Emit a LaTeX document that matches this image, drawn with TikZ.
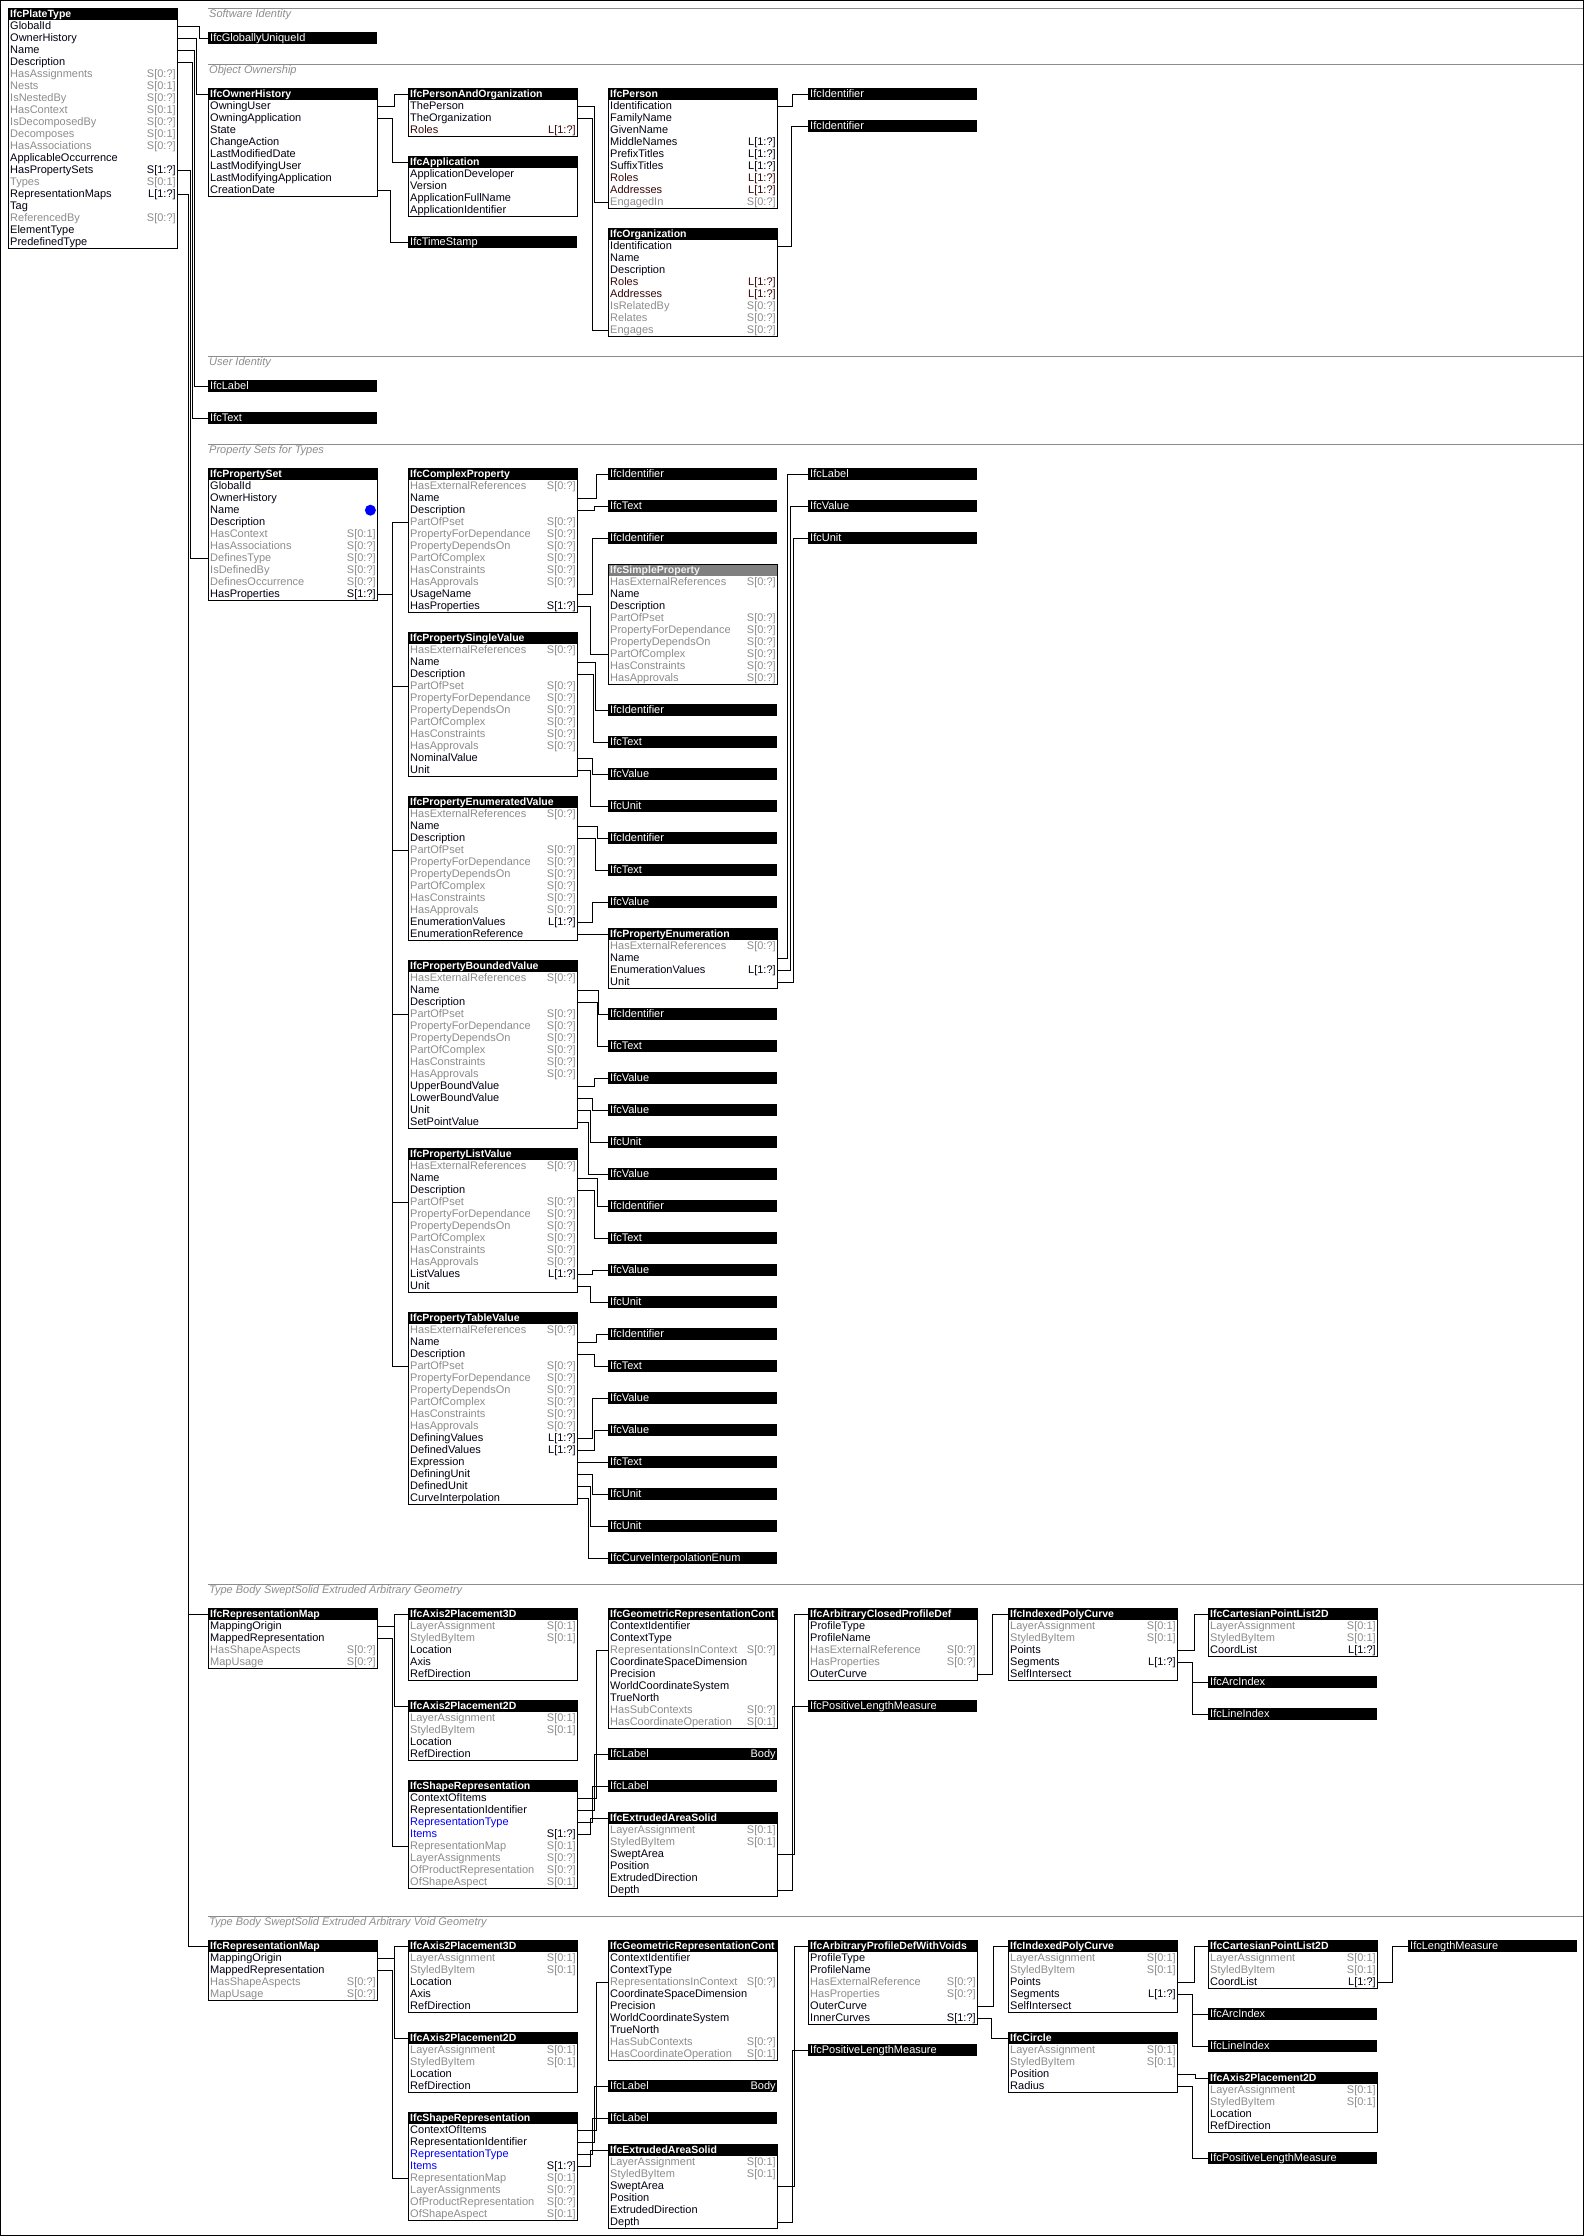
\documentclass[tikz,border=0pt]{standalone}
\usepackage{fontspec}
\setmainfont{Liberation Sans}
\usetikzlibrary{arrows.meta}

\definecolor{an}{HTML}{000010}
\definecolor{cn}{HTML}{000010}
\definecolor{ai}{HTML}{8C8C8C}
\definecolor{ci}{HTML}{8C8C8C}
\definecolor{as}{HTML}{0000FF}
\definecolor{cs}{HTML}{000010}
\definecolor{ar}{HTML}{3A0505}
\definecolor{cr}{HTML}{3A0505}
\definecolor{secgrey}{HTML}{8C8C8C}
\definecolor{absgrey}{HTML}{808080}

\newcommand{\AttrFont}{\fontsize{11}{12}\selectfont}
\newcommand{\TitleFont}{\fontsize{10.5}{12}\selectfont\bfseries}

\def\pcommon{HasExternalReferences/{S[0:?]}/i,
  Name//n, Description//n, PartOfPset/{S[0:?]}/i,
  PropertyForDependance/{S[0:?]}/i, PropertyDependsOn/{S[0:?]}/i,
  PartOfComplex/{S[0:?]}/i, HasConstraints/{S[0:?]}/i,
  HasApprovals/{S[0:?]}/i}

\newcommand{\Entity}[6][ttl]{%
  \node[#1] (#2) at (#3,#4) {#5};
  \edef\rowlist{#6}%
  \foreach \an/\ac/\ak [count=\ri] in \rowlist {
    \node[attr,text=a\ak] (#2-\an) at (#3,{#4+12*\ri}) {\an};
    \node[card,text=c\ak] (#2-\an-c) at (#2-\an.east) {\ac};
    \xdef\nrows{\ri}
  }
  \draw[entbox] (#3,#4) rectangle ++(169,{12*(\nrows+1)});
}
\newcommand{\TypeBar}[4]{\node[bar] (#1) at (#2,#3) {#4};}

\begin{document}
\begin{tikzpicture}[
    x=1pt, y=-1pt,
    ttl/.style={anchor=north west, fill=black, text=white, font=\TitleFont,
      text width=165, inner xsep=2, inner ysep=0, align=left,
      text height=8.5, text depth=2.5, minimum height=12},
    ttlabs/.style={ttl, fill=absgrey, text=white!88!absgrey},
    attr/.style={anchor=north west, font=\AttrFont, text width=165,
      inner xsep=2, inner ysep=0, align=left,
      text height=8.5, text depth=2.5, minimum height=12},
    card/.style={anchor=east, font=\AttrFont, inner xsep=1.5, inner ysep=0,
      text height=8.5, text depth=2.5},
    bar/.style={ttl, font=\AttrFont},
    entbox/.style={draw, line width=1pt},
    conn/.style={draw, line width=1pt},
    secline/.style={draw=secgrey, line width=1pt},
    sectitle/.style={anchor=west, text=secgrey, font=\AttrFont\itshape, inner sep=0},
    setdot/.style={circle, fill=blue, inner sep=0, minimum size=11},
    ]

    \useasboundingbox (0,0) rectangle (1584,2236);
    \draw[line width=1pt] (0.5,0.5) rectangle (1583.5,2235.5);

    \foreach \y/\tx [count=\s] in {8/Software Identity, 64/Object Ownership,
        356/User Identity, 444/Property Sets for Types,
        1584/Type Body SweptSolid Extruded Arbitrary Geometry,
        1916/Type Body SweptSolid Extruded Arbitrary Void Geometry} {
      \draw[secline] (208,\y) -- (1583,\y);
      \node[sectitle] (sec\s) at (209,\y+7) {\tx};
    }

    % software identity, ownership, user identity
    \Entity{pt}{8}{8}{IfcPlateType}{GlobalId//n, OwnerHistory//n, Name//n,
      Description//n, HasAssignments/{S[0:?]}/i, Nests/{S[0:1]}/i,
      IsNestedBy/{S[0:?]}/i, HasContext/{S[0:1]}/i, IsDecomposedBy/{S[0:?]}/i,
      Decomposes/{S[0:1]}/i, HasAssociations/{S[0:?]}/i, ApplicableOccurrence//n,
      HasPropertySets/{S[1:?]}/n, Types/{S[0:1]}/i, RepresentationMaps/{L[1:?]}/n,
      Tag//n, ReferencedBy/{S[0:?]}/i, ElementType//n, PredefinedType//n}
    \TypeBar{guid}{208}{32}{IfcGloballyUniqueId}
    \Entity{oh}{208}{88}{IfcOwnerHistory}{OwningUser//n, OwningApplication//n,
      State//n, ChangeAction//n, LastModifiedDate//n, LastModifyingUser//n,
      LastModifyingApplication//n, CreationDate//n}
    \Entity{pao}{408}{88}{IfcPersonAndOrganization}{ThePerson//n,
      TheOrganization//n, Roles/{L[1:?]}/r}
    \Entity{app}{408}{156}{IfcApplication}{ApplicationDeveloper//n, Version//n,
      ApplicationFullName//n, ApplicationIdentifier//n}
    \TypeBar{ts}{408}{236}{IfcTimeStamp}
    \Entity{per}{608}{88}{IfcPerson}{Identification//n, FamilyName//n,
      GivenName//n, MiddleNames/{L[1:?]}/n, PrefixTitles/{L[1:?]}/n,
      SuffixTitles/{L[1:?]}/n, Roles/{L[1:?]}/r, Addresses/{L[1:?]}/r,
      EngagedIn/{S[0:?]}/i}
    \Entity{org}{608}{228}{IfcOrganization}{Identification//n, Name//n,
      Description//n, Roles/{L[1:?]}/r, Addresses/{L[1:?]}/r,
      IsRelatedBy/{S[0:?]}/i, Relates/{S[0:?]}/i, Engages/{S[0:?]}/i}
    \TypeBar{perid}{808}{88}{IfcIdentifier}
    \TypeBar{orgid}{808}{120}{IfcIdentifier}
    \TypeBar{uilbl}{208}{380}{IfcLabel}
    \TypeBar{uitxt}{208}{412}{IfcText}

    \foreach \an/\dx/\tg in {GlobalId/22/guid, OwnerHistory/19.5/oh,
        Name/17/uilbl, Description/15/uitxt}
      \draw[conn] (pt-\an.east) -- ++(\dx,0) |- (\tg.west);
    \foreach \an/\dx/\tg in {OwningUser/17/pao, OwningApplication/15/app,
        CreationDate/13/ts}
      \draw[conn] (oh-\an.east) -- ++(\dx,0) |- (\tg.west);
    \draw[conn] (pao-ThePerson.east) -- ++(17,0) |- (per-EngagedIn.west);
    \draw[conn] (pao-TheOrganization.east) -- ++(15.5,0) |- (org-Engages.west);
    \draw[conn] (per-Identification.east) -- ++(15.5,0) |- (perid.west);
    \draw[conn] (org-Identification.east) -- ++(14.5,0) |- (orgid.west);

    % property sets
    \Entity{ps}{208}{468}{IfcPropertySet}{GlobalId//n, OwnerHistory//n, Name//n,
      Description//n, HasContext/{S[0:1]}/i, HasAssociations/{S[0:?]}/i,
      DefinesType/{S[0:?]}/i, IsDefinedBy/{S[0:?]}/i,
      DefinesOccurrence/{S[0:?]}/i, HasProperties/{S[1:?]}/n}
    \node[setdot] (psdot) at ([xshift=-7pt]ps-Name.east) {};
    \draw[conn] (pt-HasPropertySets.east) -- ++(13,0) |- (ps-DefinesType.west);

    \Entity{cp}{408}{468}{IfcComplexProperty}{\pcommon, UsageName//n,
      HasProperties/{S[1:?]}/n}
    \Entity{sv}{408}{632}{IfcPropertySingleValue}{\pcommon, NominalValue//n,
      Unit//n}
    \Entity{ev}{408}{796}{IfcPropertyEnumeratedValue}{\pcommon,
      EnumerationValues/{L[1:?]}/n, EnumerationReference//n}
    \Entity{bv}{408}{960}{IfcPropertyBoundedValue}{\pcommon,
      UpperBoundValue//n, LowerBoundValue//n, Unit//n, SetPointValue//n}
    \Entity{lv}{408}{1148}{IfcPropertyListValue}{\pcommon,
      ListValues/{L[1:?]}/n, Unit//n}
    \Entity{tv}{408}{1312}{IfcPropertyTableValue}{\pcommon,
      DefiningValues/{L[1:?]}/n, DefinedValues/{L[1:?]}/n, Expression//n,
      DefiningUnit//n, DefinedUnit//n, CurveInterpolation//n}

    \Entity[ttlabs]{sp}{608}{564}{IfcSimpleProperty}{\pcommon}
    \Entity{pe}{608}{928}{IfcPropertyEnumeration}{HasExternalReferences/{S[0:?]}/i,
      Name//n, EnumerationValues/{L[1:?]}/n, Unit//n}

    \foreach \n/\y/\tx in {cpid/468/IfcIdentifier, cptx/500/IfcText,
        cpun/532/IfcIdentifier, svid/704/IfcIdentifier, svtx/736/IfcText,
        svva/768/IfcValue, svun/800/IfcUnit, evid/832/IfcIdentifier,
        evtx/864/IfcText, evva/896/IfcValue, bvid/1008/IfcIdentifier,
        bvtx/1040/IfcText, bvup/1072/IfcValue, bvlo/1104/IfcValue,
        bvun/1136/IfcUnit, bvsp/1168/IfcValue, lvid/1200/IfcIdentifier,
        lvtx/1232/IfcText, lvva/1264/IfcValue, lvun/1296/IfcUnit,
        tvid/1328/IfcIdentifier, tvtx/1360/IfcText, tvdg/1392/IfcValue,
        tvdd/1424/IfcValue, tvex/1456/IfcText, tvgu/1488/IfcUnit,
        tvdu/1520/IfcUnit, tvci/1552/IfcCurveInterpolationEnum}
      \TypeBar{\n}{608}{\y}{\tx};
    \TypeBar{pelb}{808}{468}{IfcLabel}
    \TypeBar{peva}{808}{500}{IfcValue}
    \TypeBar{peun}{808}{532}{IfcUnit}

    \foreach \p in {cp,sv,ev,bv,lv,tv}
      \draw[conn] (ps-HasProperties.east) -- ++(15,0) |- (\p-PartOfPset.west);
    \foreach \an/\dx/\tg in {Name/19/cpid, Description/17/cptx,
        UsageName/15/cpun, HasProperties/13/sp-PartOfComplex}
      \draw[conn] (cp-\an.east) -- ++(\dx,0) |- (\tg.west);
    \foreach \an/\dx/\tg in {Name/18/svid, Description/16.3/svtx,
        NominalValue/15/svva, Unit/13/svun}
      \draw[conn] (sv-\an.east) -- ++(\dx,0) |- (\tg.west);
    \foreach \an/\dx/\tg in {Name/20.5/evid, Description/18/evtx,
        EnumerationValues/15/evva, EnumerationReference/13/pe}
      \draw[conn] (ev-\an.east) -- ++(\dx,0) |- (\tg.west);
    \foreach \an/\dx/\tg in {Name/21.3/bvid, Description/19.7/bvtx,
        UpperBoundValue/17.3/bvup, LowerBoundValue/15/bvlo, Unit/13/bvun,
        SetPointValue/11.3/bvsp}
      \draw[conn] (bv-\an.east) -- ++(\dx,0) |- (\tg.west);
    \foreach \an/\dx/\tg in {Name/19.7/lvid, Description/17.3/lvtx,
        ListValues/15/lvva, Unit/13/lvun}
      \draw[conn] (lv-\an.east) -- ++(\dx,0) |- (\tg.west);
    \foreach \an/\dx/\tg in {Name/19/tvid, Description/17/tvtx,
        DefiningValues/15/tvdg, DefinedValues/17/tvdd, Expression/13/tvex,
        DefiningUnit/15/tvgu, DefinedUnit/13/tvdu, CurveInterpolation/11/tvci}
      \draw[conn] (tv-\an.east) -- ++(\dx,0) |- (\tg.west);
    \foreach \an/\dx/\tg in {Name/10/pelb, EnumerationValues/13/peva,
        Unit/16/peun}
      \draw[conn] (pe-\an.east) -- ++(\dx,0) |- (\tg.west);

    % type body geometry
    \foreach \s/\o in {g/1608, v/1940} {
      \Entity{rm\s}{208}{\o}{IfcRepresentationMap}{MappingOrigin//n,
        MappedRepresentation//n, HasShapeAspects/{S[0:?]}/i, MapUsage/{S[0:?]}/i}
      \Entity{atd\s}{408}{\o}{IfcAxis2Placement3D}{LayerAssignment/{S[0:1]}/i,
        StyledByItem/{S[0:1]}/i, Location//n, Axis//n, RefDirection//n}
      \Entity{atw\s}{408}{\o+92}{IfcAxis2Placement2D}{LayerAssignment/{S[0:1]}/i,
        StyledByItem/{S[0:1]}/i, Location//n, RefDirection//n}
      \Entity{sr\s}{408}{\o+172}{IfcShapeRepresentation}{ContextOfItems//n,
        RepresentationIdentifier//n, RepresentationType//s, Items/{S[1:?]}/s,
        RepresentationMap/{S[0:1]}/i, LayerAssignments/{S[0:?]}/i,
        OfProductRepresentation/{S[0:?]}/i, OfShapeAspect/{S[0:1]}/i}
      \Entity{grc\s}{608}{\o}{IfcGeometricRepresentationCont}{ContextIdentifier//n,
        ContextType//n, RepresentationsInContext/{S[0:?]}/i,
        CoordinateSpaceDimension//n, Precision//n, WorldCoordinateSystem//n,
        TrueNorth//n, HasSubContexts/{S[0:?]}/i, HasCoordinateOperation/{S[0:1]}/i}
      \TypeBar{rid\s}{608}{\o+140}{IfcLabel}
      \node[card,text=white] (rid\s-v) at (rid\s.east) {Body};
      \TypeBar{rty\s}{608}{\o+172}{IfcLabel}
      \Entity{eas\s}{608}{\o+204}{IfcExtrudedAreaSolid}{LayerAssignment/{S[0:1]}/i,
        StyledByItem/{S[0:1]}/i, SweptArea//n, Position//n,
        ExtrudedDirection//n, Depth//n}
      \Entity{ipc\s}{1008}{\o}{IfcIndexedPolyCurve}{LayerAssignment/{S[0:1]}/i,
        StyledByItem/{S[0:1]}/i, Points//n, Segments/{L[1:?]}/n, SelfIntersect//n}
      \Entity{cpl\s}{1208}{\o}{IfcCartesianPointList2D}{LayerAssignment/{S[0:1]}/i,
        StyledByItem/{S[0:1]}/i, CoordList/{L[1:?]}/n}
      \TypeBar{arc\s}{1208}{\o+68}{IfcArcIndex}
      \TypeBar{lin\s}{1208}{\o+100}{IfcLineIndex}

      \draw[conn] (pt-RepresentationMaps.east) -- ++(11,0) |- (rm\s.west);
      \draw[conn] (rm\s-MappingOrigin.east) -- ++(17,0) |- (atd\s.west);
      \draw[conn] (rm\s-MappingOrigin.east) -- ++(17,0) |- (atw\s.west);
      \draw[conn] (rm\s-MappedRepresentation.east) -- ++(15,0)
        |- (sr\s-RepresentationMap.west);
      \draw[conn] (sr\s-ContextOfItems.east) -- ++(19,0)
        |- (grc\s-RepresentationsInContext.west);
      \draw[conn] (sr\s-RepresentationIdentifier.east) -- ++(17,0) |- (rid\s.west);
      \draw[conn] (sr\s-RepresentationType.east) -- ++(15,0) |- (rty\s.west);
      \draw[conn] (sr\s-Items.east) -- ++(13,0) |- (eas\s.west);
      \draw[conn] (ipc\s-Points.east) -- ++(17.5,0) |- (cpl\s.west);
      \draw[conn] (ipc\s-Segments.east) -- ++(15,0) |- (arc\s.west);
      \draw[conn] (ipc\s-Segments.east) -- ++(15,0) |- (lin\s.west);
    }

    \Entity{acp}{808}{1608}{IfcArbitraryClosedProfileDef}{ProfileType//n,
      ProfileName//n, HasExternalReference/{S[0:?]}/i, HasProperties/{S[0:?]}/i,
      OuterCurve//n}
    \TypeBar{plmg}{808}{1700}{IfcPositiveLengthMeasure}
    \draw[conn] (easg-SweptArea.east) -- ++(17.5,0) |- (acp.west);
    \draw[conn] (easg-Depth.east) -- ++(15,0) |- (plmg.west);
    \draw[conn] (acp-OuterCurve.east) -- ++(15.5,0) |- (ipcg.west);

    \Entity{apv}{808}{1940}{IfcArbitraryProfileDefWithVoids}{ProfileType//n,
      ProfileName//n, HasExternalReference/{S[0:?]}/i, HasProperties/{S[0:?]}/i,
      OuterCurve//n, InnerCurves/{S[1:?]}/n}
    \TypeBar{plmv}{808}{2044}{IfcPositiveLengthMeasure}
    \Entity{cir}{1008}{2032}{IfcCircle}{LayerAssignment/{S[0:1]}/i,
      StyledByItem/{S[0:1]}/i, Position//n, Radius//n}
    \Entity{atc}{1208}{2072}{IfcAxis2Placement2D}{LayerAssignment/{S[0:1]}/i,
      StyledByItem/{S[0:1]}/i, Location//n, RefDirection//n}
    \TypeBar{plmc}{1208}{2152}{IfcPositiveLengthMeasure}
    \TypeBar{lm}{1408}{1940}{IfcLengthMeasure}
    \draw[conn] (easv-SweptArea.east) -- ++(17,0) |- (apv.west);
    \draw[conn] (easv-Depth.east) -- ++(15.5,0) |- (plmv.west);
    \draw[conn] (apv-OuterCurve.east) -- ++(16,0) |- (ipcv.west);
    \draw[conn] (apv-InnerCurves.east) -- ++(14,0) |- (cir.west);
    \draw[conn] (cplv-CoordList.east) -- ++(15,0) |- (lm.west);
    \draw[conn] (cir-Position.east) -- ++(18,0) |- (atc.west);
    \draw[conn] (cir-Radius.east) -- ++(15,0) |- (plmc.west);

  \end{tikzpicture}
\end{document}
